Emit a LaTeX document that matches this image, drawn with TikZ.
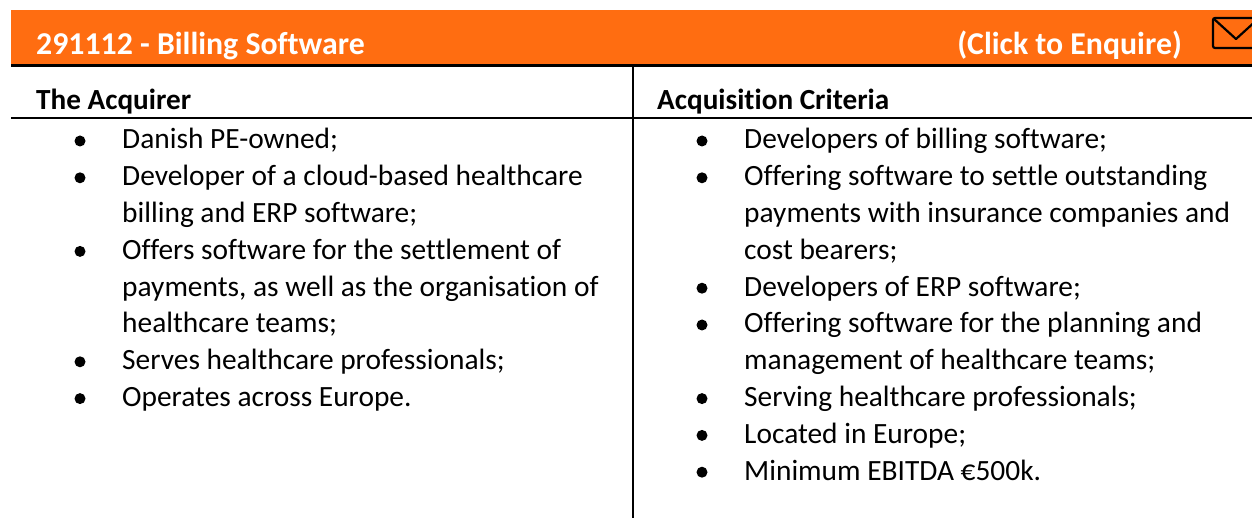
\documentclass[tikz,border=0pt]{standalone}
\usepackage{fontspec}
\setmainfont{Carlito}[Ligatures=CommonOff]
\definecolor{hdrorange}{RGB}{255,109,17}
\begin{document}
\begin{tikzpicture}[x=1pt,y=-1pt,
  body/.style={anchor=base west,inner sep=0pt,font=\fontsize{29.4}{36}\selectfont,text=black},
  head/.style={anchor=base west,inner sep=0pt,font=\fontsize{29.2}{36}\selectfont\bfseries,text=black},
  title/.style={inner sep=0pt,font=\fontsize{31.8}{38}\selectfont\bfseries,text=white},
  bul/.style={circle,fill=black,inner sep=0pt,minimum size=11pt},
  rulethick/.style={line width=2.5pt},
  rulethin/.style={line width=2.2pt}]
\useasboundingbox (0,0) rectangle (1252,518);
\clip (0,0) rectangle (1252,518);
% header band
\fill[hdrorange] (11,10) rectangle (1252,64);
\node[title,anchor=base west] (title) at (36,55) {291112 - Billing Software};
\node[title,anchor=base east] (enq) at (1182,55) {(Click to Enquire)};
% envelope icon
\draw[line width=2.2pt,rounded corners=2pt] (1213,18) rectangle (1262,48);
\draw[line width=2.2pt,line join=round] (1214,19) -- (1236,39) -- (1258,19);
% table rules
\coordinate (r1l) at (11,65.5);  \coordinate (r1r) at (1252,65.5);
\coordinate (r2l) at (11,118); \coordinate (r2r) at (1252,118);
\coordinate (vt) at (633,65);  \coordinate (vb) at (633,518);
\draw[rulethick] (r1l) -- (r1r);
\draw[rulethin] (r2l) -- (r2r);
\draw[rulethin] (vt) -- (vb);
% column headings
\node[head] (acq) at (36,109.5) {The Acquirer};
\node[head] (crit) at (657,109.5) {Acquisition Criteria};
% left column
\node[bul] (lb1) at (80,141) {};
\node[body] (l1) at (122,149) {Danish PE-owned;};
\node[bul] (lb2) at (80,177.8) {};
\node[body] (l2) at (122,185.8) {Developer of a cloud-based healthcare};
\node[body] (l3) at (122,222.6) {billing and ERP software;};
\node[bul] (lb4) at (80,251.4) {};
\node[body] (l4) at (122,259.4) {Offers software for the settlement of};
\node[body] (l5) at (122,296.2) {payments, as well as the organisation of};
\node[body] (l6) at (122,333) {healthcare teams;};
\node[bul] (lb7) at (80,361.8) {};
\node[body] (l7) at (122,369.8) {Serves healthcare professionals;};
\node[bul] (lb8) at (80,398.6) {};
\node[body] (l8) at (122,406.6) {Operates across Europe.};
% right column
\node[bul] (rb1) at (702,141) {};
\node[body] (r1) at (744,149) {Developers of billing software;};
\node[bul] (rb2) at (702,177.8) {};
\node[body] (r2) at (744,185.8) {Offering software to settle outstanding};
\node[body] (r3) at (744,222.6) {payments with insurance companies and};
\node[body] (r4) at (744,259.4) {cost bearers;};
\node[bul] (rb5) at (702,288.2) {};
\node[body] (r5) at (744,296.2) {Developers of ERP software;};
\node[bul] (rb6) at (702,325) {};
\node[body] (r6) at (744,333) {Offering software for the planning and};
\node[body] (r7) at (744,369.8) {management of healthcare teams;};
\node[bul] (rb8) at (702,398.6) {};
\node[body] (r8) at (744,406.6) {Serving healthcare professionals;};
\node[bul] (rb9) at (702,435.4) {};
\node[body] (r9) at (744,443.4) {Located in Europe;};
\node[bul] (rb10) at (702,472.2) {};
\node[body] (r10) at (744,480.2) {Minimum EBITDA €500k.};
\end{tikzpicture}
\end{document}
